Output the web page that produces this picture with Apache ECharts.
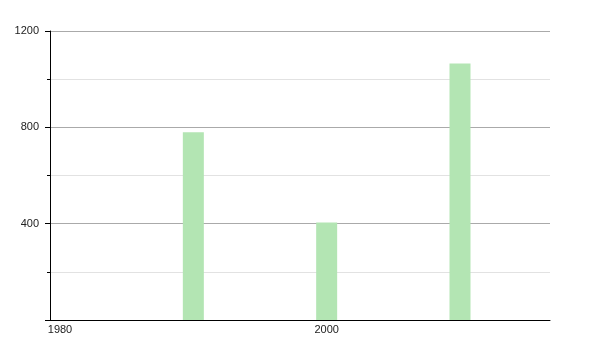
<!DOCTYPE html>
<html>
<head>
<meta charset="utf-8">
<script src="https://cdn.jsdelivr.net/npm/echarts@6/dist/echarts.min.js"></script>
<style>html,body{margin:0;padding:0;background:#fff}#c{width:600px;height:350px}</style>
</head>
<body>
<div id="c"></div>
<script>
const years = [1990, 2000, 2010];
const values = [780, 405, 1065];
const yTickLabels = [400, 800, 1200];
const xTickLabels = [1980, 2000];

const chart = echarts.init(document.getElementById('c'), null, {renderer: 'canvas'});
chart.setOption({
  animation: false,
  grid: {left: 50, right: 50, top: 31, bottom: 30, containLabel: false},
  xAxis: {
    type: 'value',
    min: 1979.25,
    max: 2016.75,
    interval: 0.25,
    axisLine: {show: true, lineStyle: {color: '#000', width: 1}},
    axisTick: {show: false},
    splitLine: {show: false},
    axisLabel: {
      margin: 4,
      color: '#222',
      fontSize: 11,
      fontFamily: 'Liberation Sans, Arial, sans-serif',
      hideOverlap: false,
      formatter: v => xTickLabels.includes(Math.round(v * 100) / 100) ? String(Math.round(v)) : ''
    }
  },
  yAxis: {
    type: 'value',
    min: 0,
    max: 1200,
    interval: 400,
    axisLine: {show: true, lineStyle: {color: '#000', width: 1}},
    axisTick: {show: true, length: 5, lineStyle: {color: '#000'}},
    minorTick: {show: true, splitNumber: 2, length: 3, lineStyle: {color: '#000'}},
    splitLine: {show: true, lineStyle: {color: '#aaa', width: 1}},
    minorSplitLine: {show: true, lineStyle: {color: '#e2e2e2', width: 1}},
    axisLabel: {
      margin: 11,
      color: '#222',
      fontSize: 11,
      fontFamily: 'Liberation Sans, Arial, sans-serif',
      formatter: v => yTickLabels.includes(v) ? String(v) : ''
    }
  },
  series: [{
    type: 'bar',
    data: years.map((y, i) => [y, values[i]]),
    barWidth: 21,
    itemStyle: {color: '#b3e5b3'}
  }]
});
</script>
</body>
</html>
